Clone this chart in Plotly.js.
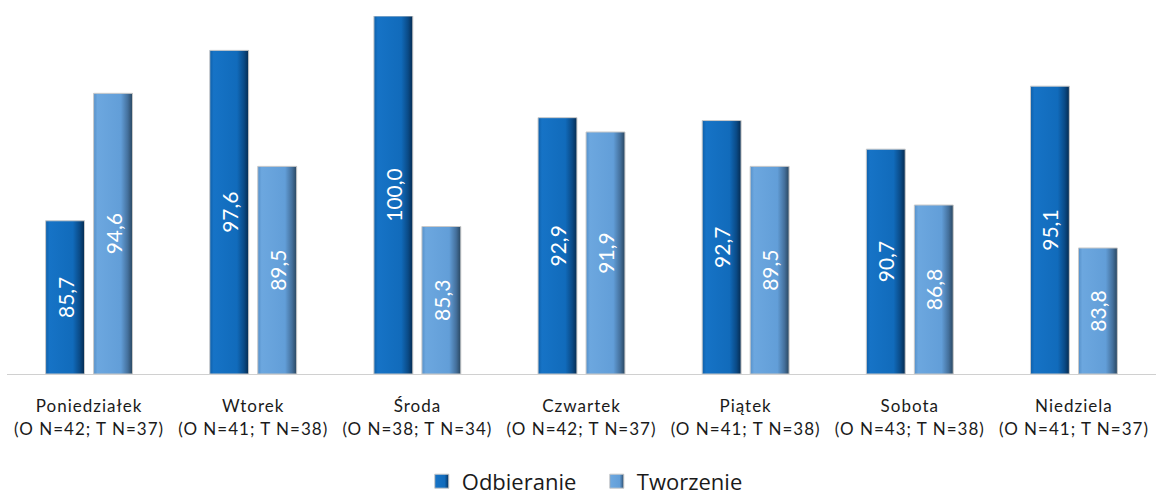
<!DOCTYPE html>
<html>
<head>
<meta charset="utf-8">
<script src="https://cdn.plot.ly/plotly-3.0.1.min.js"></script>
<style>
html,body{margin:0;padding:0;background:#fff;}
#chart{width:1156px;height:493px;}
#chart .xtick text{letter-spacing:1px;}
</style>
</head>
<body>
<div id="chart"></div>
<script>
const categories = [
  "Poniedziałek<br>(O N=42; T N=37)",
  "Wtorek<br>(O N=41; T N=38)",
  "Środa<br>(O N=38; T N=34)",
  "Czwartek<br>(O N=42; T N=37)",
  "Piątek<br>(O N=41; T N=38)",
  "Sobota<br>(O N=43; T N=38)",
  "Niedziela<br>(O N=41; T N=37)"
];
const odbieranie = [85.7, 97.6, 100.0, 92.9, 92.7, 90.7, 95.1];
const tworzenie = [94.6, 89.5, 85.3, 91.9, 89.5, 86.8, 83.8];
const axisBase = 75;

const fmt = v => v.toFixed(1).replace('.', ',');

function barTrace(name, values, color) {
  return {
    type: 'bar',
    name: name,
    x: categories,
    base: axisBase,
    y: values.map(v => v - axisBase),
    text: values.map(fmt),
    texttemplate: '%{text}',
    textposition: 'inside',
    insidetextanchor: 'middle',
    textangle: -90,
    constraintext: 'none',
    textfont: {family: 'Lato, "Open Sans", sans-serif', size: 21, color: '#ffffff'},
    marker: {color: color, line: {color: '#c9c9c9', width: 1}},
    hoverinfo: 'none'
  };
}

const data = [
  barTrace('Odbieranie', odbieranie, '#1169b8'),
  barTrace('Tworzenie', tworzenie, '#639fd9')
];
const layout = {
  width: 1156, height: 493,
  margin: {l: 7, r: 0, t: 16, b: 119, autoexpand: false},
  paper_bgcolor: '#ffffff', plot_bgcolor: '#ffffff',
  barmode: 'group',
  bargap: 0.415,
  bargroupgap: 0.19,
  font: {family: 'Lato, "Open Sans", sans-serif', color: '#1a1a1a'},
  xaxis: {
    automargin: false,
    showline: true, linecolor: '#d0d0d0', linewidth: 1,
    ticks: '', tickfont: {size: 17, color: '#1a1a1a'},
    ticklabelstandoff: 17,
    showgrid: false, fixedrange: true
  },
  yaxis: {
    automargin: false,
    range: [75, 100], visible: false, showgrid: false, zeroline: false
  },
  showlegend: true,
  legend: {
    orientation: 'h', x: 0.361, xanchor: 'left', y: -0.3, yanchor: 'middle',
    font: {family: '"Open Sans", Lato, sans-serif', size: 22, color: '#1a1a1a'},
    entrywidth: 130, tracegroupgap: 0
  }
};

const gradients = [
  {id: 'gOdb', stops: [[0, '#0f5fa8'], [0.1, '#1673c6'], [0.7, '#116bbb'], [0.88, '#0a4a86'], [1, '#052b50']]},
  {id: 'gTwo', stops: [[0, '#5590c9'], [0.1, '#6ca7df'], [0.7, '#629ed8'], [0.88, '#44709c'], [1, '#29465f']]}
];

Plotly.newPlot('chart', data, layout, {staticPlot: true, displayModeBar: false}).then(gd => {
  const svgNS = 'http://www.w3.org/2000/svg';
  const svg = gd.querySelector('svg.main-svg');
  let defs = svg.querySelector('defs');
  if (!defs) { defs = document.createElementNS(svgNS, 'defs'); svg.insertBefore(defs, svg.firstChild); }
  gradients.forEach(g => {
    const lg = document.createElementNS(svgNS, 'linearGradient');
    lg.setAttribute('id', g.id);
    lg.setAttribute('x1', '0'); lg.setAttribute('y1', '0');
    lg.setAttribute('x2', '1'); lg.setAttribute('y2', '0');
    g.stops.forEach(s => {
      const st = document.createElementNS(svgNS, 'stop');
      st.setAttribute('offset', s[0]);
      st.setAttribute('stop-color', s[1]);
      lg.appendChild(st);
    });
    defs.appendChild(lg);
  });
  const traces = gd.querySelectorAll('.barlayer .trace.bars');
  traces.forEach((t, i) => {
    t.querySelectorAll('.point path').forEach(p => { p.style.fill = 'url(#' + gradients[i].id + ')'; });
  });
  const legendPts = gd.querySelectorAll('.legend .traces .legendpoints path');
  legendPts.forEach((p, i) => {
    if (gradients[i]) {
      p.style.fill = 'url(#' + gradients[i].id + ')';
      p.setAttribute('d', 'M7,7H-7V-7H7Z');
    }
  });
});
</script>
</body>
</html>
